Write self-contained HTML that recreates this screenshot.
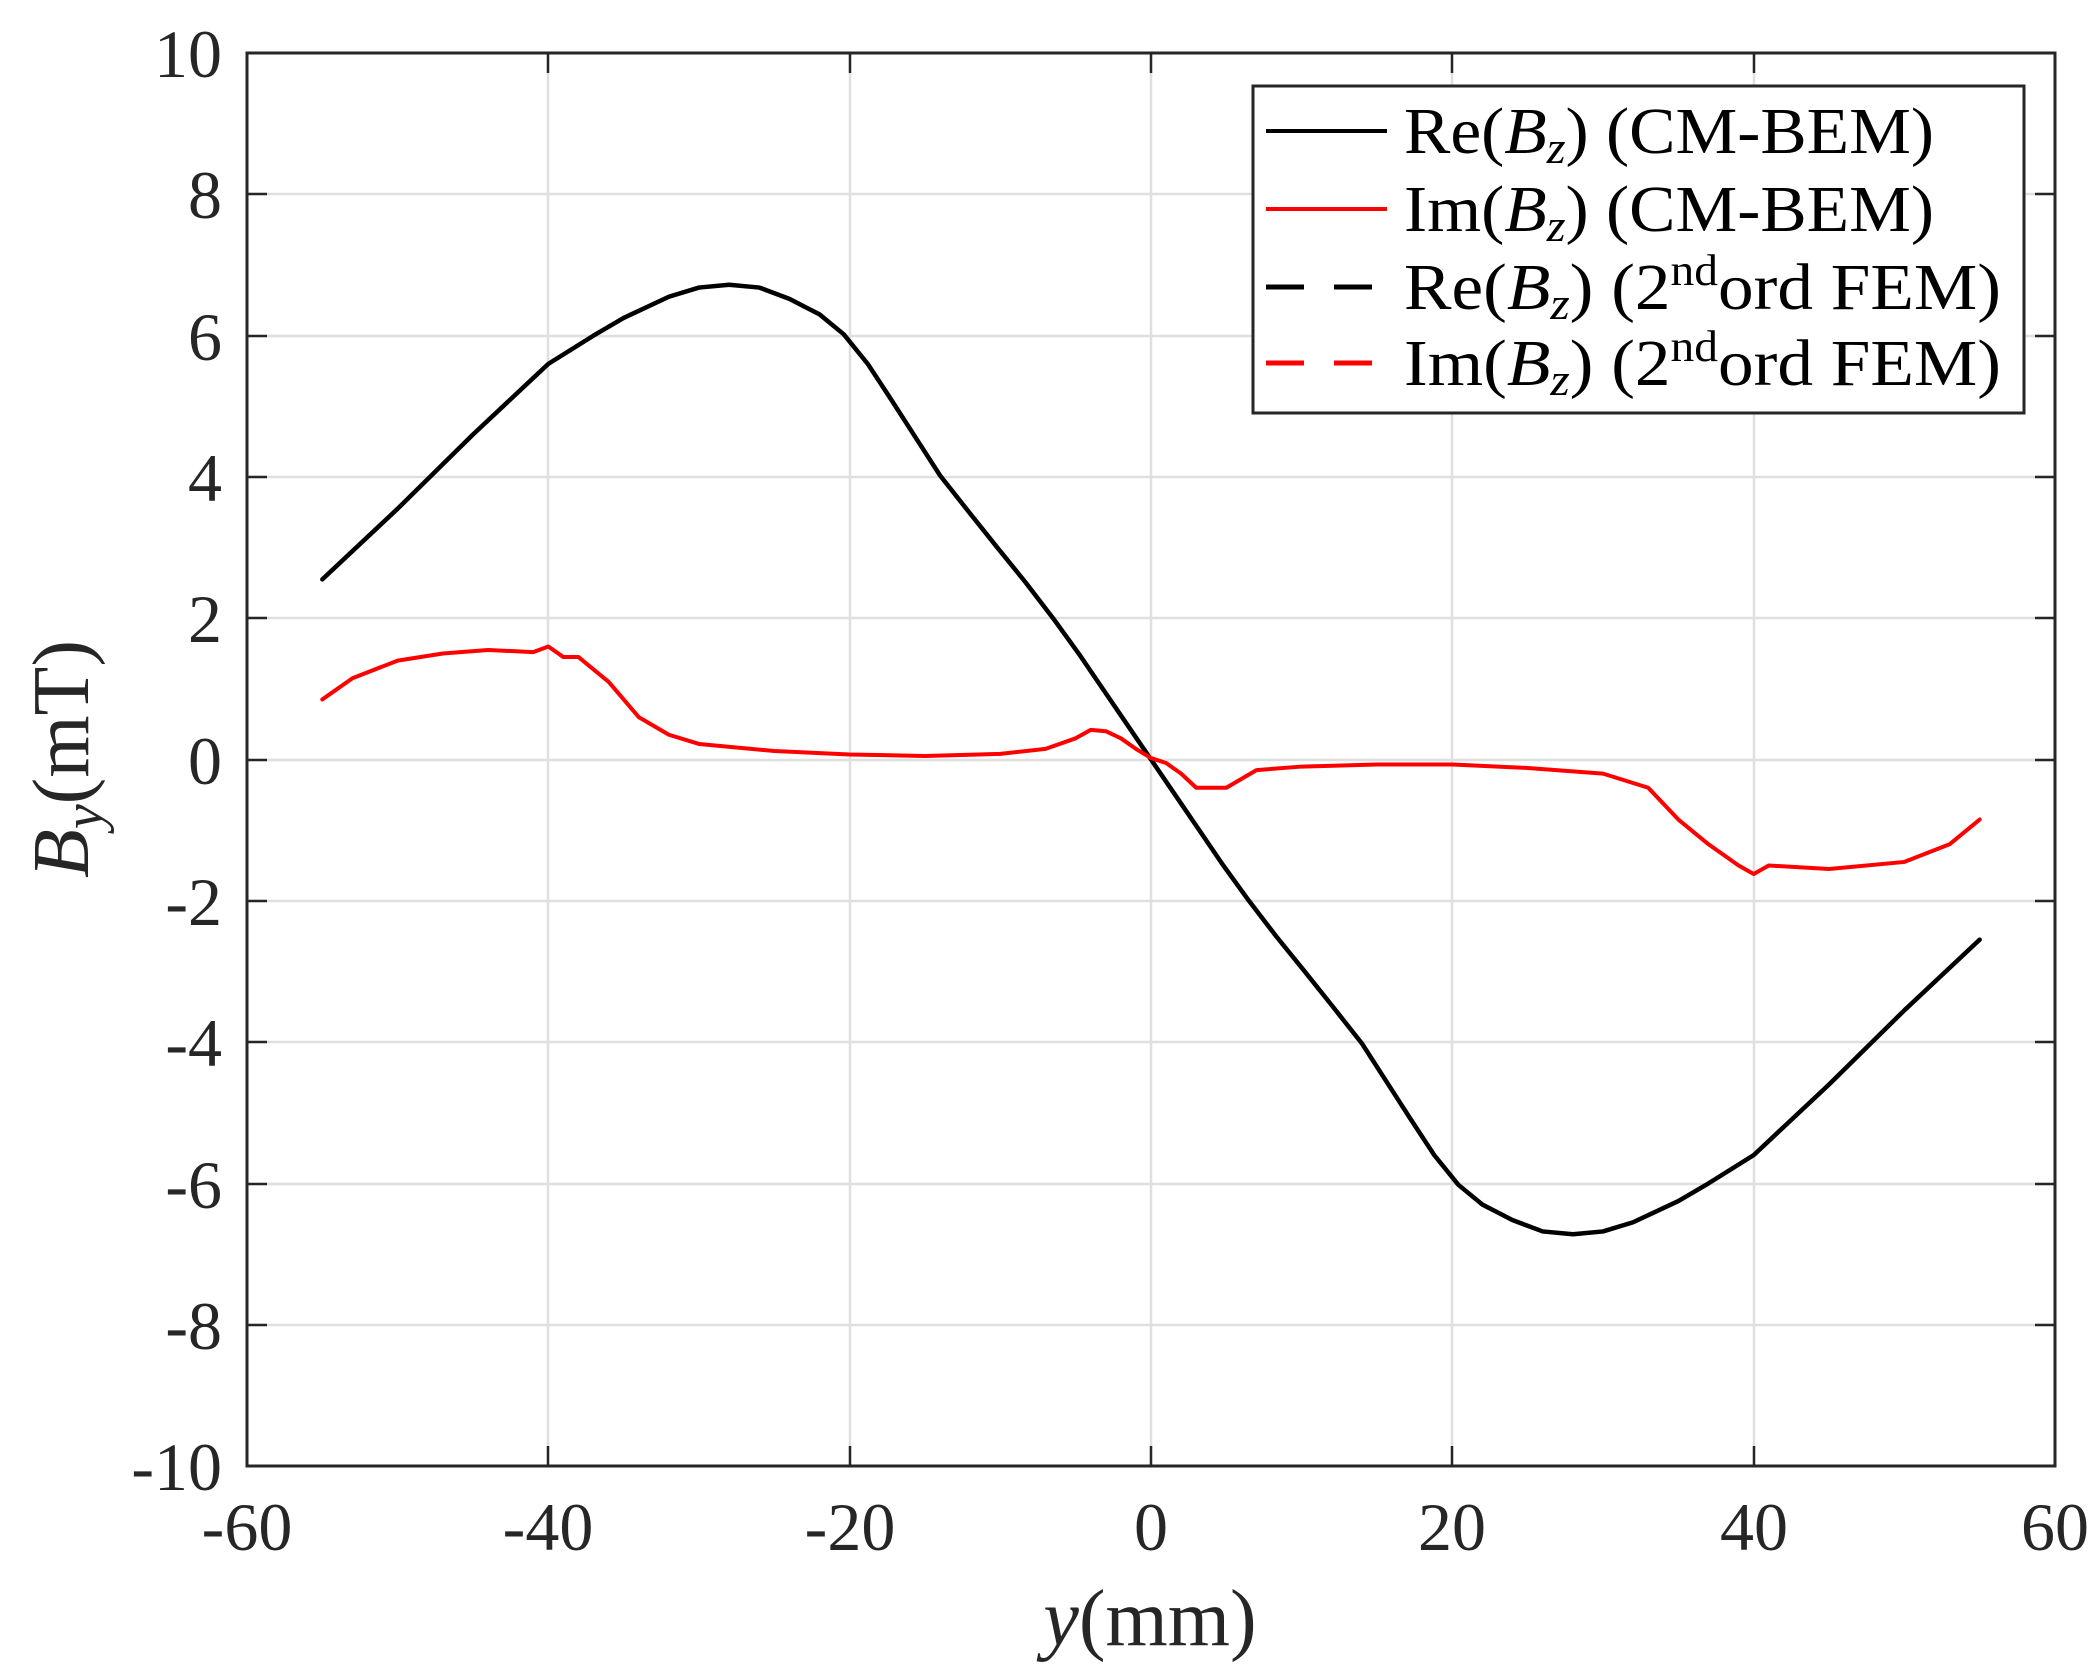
<!DOCTYPE html>
<html><head><meta charset="utf-8"><style>
html,body{margin:0;padding:0;background:#fff;}
svg{display:block;}
text{font-family:"Liberation Serif",serif;fill:#262626;}
</style></head><body>
<svg width="2100" height="1680" viewBox="0 0 2100 1680" xmlns="http://www.w3.org/2000/svg">
<rect width="2100" height="1680" fill="#fff"/>
<g stroke="#dfdfdf" stroke-width="2.5">
<line x1="548" y1="53" x2="548" y2="1466"/><line x1="850" y1="53" x2="850" y2="1466"/>
<line x1="1151" y1="53" x2="1151" y2="1466"/><line x1="1452" y1="53" x2="1452" y2="1466"/>
<line x1="1754" y1="53" x2="1754" y2="1466"/>
<line x1="247" y1="194" x2="2055" y2="194"/><line x1="247" y1="336" x2="2055" y2="336"/>
<line x1="247" y1="477" x2="2055" y2="477"/><line x1="247" y1="618" x2="2055" y2="618"/>
<line x1="247" y1="760" x2="2055" y2="760"/><line x1="247" y1="901" x2="2055" y2="901"/>
<line x1="247" y1="1042" x2="2055" y2="1042"/><line x1="247" y1="1184" x2="2055" y2="1184"/>
<line x1="247" y1="1325" x2="2055" y2="1325"/>
</g>
<g stroke="#262626" stroke-width="2.5">
<path d="M247 194h20M247 336h20M247 477h20M247 618h20M247 760h20M247 901h20M247 1042h20M247 1184h20M247 1325h20"/>
<path d="M2055 194h-20M2055 336h-20M2055 477h-20M2055 618h-20M2055 760h-20M2055 901h-20M2055 1042h-20M2055 1184h-20M2055 1325h-20"/>
<path d="M548 1466v-20M850 1466v-20M1151 1466v-20M1452 1466v-20M1754 1466v-20M548 53v20M850 53v20M1151 53v20M1452 53v20M1754 53v20"/>
</g>
<g transform="translate(1151,759.5) scale(15.067,-70.65)" fill="none" stroke-linejoin="round" stroke-linecap="round">
<polyline vector-effect="non-scaling-stroke" stroke="#000" stroke-width="4.5" points="-55,2.55 -50,3.55 -45,4.6 -40,5.6 -37,6.0 -35,6.25 -32,6.55 -30,6.68 -28,6.72 -26,6.68 -24,6.52 -22,6.3 -20.4,6.02 -18.8,5.6 -17.2,5.08 -15.6,4.55 -14,4.02 -12,3.48 -10.2,3 -8.3,2.5 -6.5,2 -4.8,1.5 -3.2,1 -1.6,0.5 0,0 1.6,-0.5 3.2,-1 4.8,-1.5 6.5,-2 8.3,-2.5 10.2,-3 12,-3.48 14,-4.02 15.6,-4.55 17.2,-5.08 18.8,-5.6 20.4,-6.02 22,-6.3 24,-6.52 26,-6.68 28,-6.72 30,-6.68 32,-6.55 35,-6.25 37,-6.0 40,-5.6 45,-4.6 50,-3.55 55,-2.55"/>
<polyline vector-effect="non-scaling-stroke" stroke="#f00" stroke-width="4" points="-55,0.85 -53,1.15 -50,1.4 -47,1.5 -44,1.55 -41,1.52 -40,1.6 -39,1.45 -38,1.45 -36,1.1 -35,0.85 -34,0.6 -32,0.35 -30,0.22 -25,0.12 -20,0.07 -15,0.05 -10,0.08 -7,0.15 -5,0.3 -4,0.42 -3,0.4 -2,0.3 -1,0.15 0,0.02 1,-0.05 2,-0.2 3,-0.4 5,-0.4 7,-0.15 10,-0.1 15,-0.07 20,-0.07 25,-0.12 30,-0.2 33,-0.4 35,-0.85 37,-1.2 38,-1.35 39,-1.5 40,-1.62 41,-1.5 45,-1.55 50,-1.45 53,-1.2 55,-0.85"/>
</g>
<rect x="247" y="53" width="1808" height="1413" fill="none" stroke="#262626" stroke-width="3"/>
<g font-size="68" text-anchor="end">
<text x="222" y="77">10</text><text x="222" y="218">8</text><text x="222" y="360">6</text>
<text x="222" y="501">4</text><text x="222" y="642">2</text><text x="222" y="784">0</text>
<text x="222" y="925">-2</text><text x="222" y="1066">-4</text><text x="222" y="1208">-6</text>
<text x="222" y="1349">-8</text><text x="222" y="1490">-10</text>
</g>
<g font-size="68" text-anchor="middle">
<text x="247" y="1550">-60</text><text x="548" y="1550">-40</text><text x="850" y="1550">-20</text>
<text x="1151" y="1550">0</text><text x="1452" y="1550">20</text><text x="1754" y="1550">40</text><text x="2055" y="1550">60</text>
</g>
<text x="1150" y="1645" font-size="80" text-anchor="middle"><tspan font-style="italic">y</tspan>(mm)</text>
<text transform="translate(88,759) rotate(-90)" font-size="80" text-anchor="middle"><tspan font-style="italic">B</tspan><tspan font-style="italic" font-size="56" dy="14">y</tspan><tspan dy="-14">(mT)</tspan></text>
<rect x="1253" y="86" width="771" height="327" fill="#fff" stroke="#262626" stroke-width="3"/>
<g stroke-width="4">
<line x1="1266" y1="131" x2="1387" y2="131" stroke="#000"/>
<line x1="1266" y1="209" x2="1387" y2="209" stroke="#f00"/>
<line x1="1266" y1="287" x2="1387" y2="287" stroke="#000" stroke-width="5" stroke-dasharray="38,30"/>
<line x1="1266" y1="363" x2="1387" y2="363" stroke="#f00" stroke-width="5" stroke-dasharray="38,30"/>
</g>
<g font-size="66">
<text x="1404" y="153" style="fill:#000" textLength="530" lengthAdjust="spacingAndGlyphs">Re(<tspan font-style="italic">B</tspan><tspan font-style="italic" font-size="46" dy="10">z</tspan><tspan dy="-10">) (CM-BEM)</tspan></text>
<text x="1404" y="231" style="fill:#000" textLength="530" lengthAdjust="spacingAndGlyphs">Im(<tspan font-style="italic">B</tspan><tspan font-style="italic" font-size="46" dy="10">z</tspan><tspan dy="-10">) (CM-BEM)</tspan></text>
<text x="1404" y="309" style="fill:#000" textLength="597" lengthAdjust="spacingAndGlyphs">Re(<tspan font-style="italic">B</tspan><tspan font-style="italic" font-size="46" dy="10">z</tspan><tspan dy="-10">) (2</tspan><tspan font-size="44" dy="-24">nd</tspan><tspan dy="24">ord FEM)</tspan></text>
<text x="1404" y="385" style="fill:#000" textLength="597" lengthAdjust="spacingAndGlyphs">Im(<tspan font-style="italic">B</tspan><tspan font-style="italic" font-size="46" dy="10">z</tspan><tspan dy="-10">) (2</tspan><tspan font-size="44" dy="-24">nd</tspan><tspan dy="24">ord FEM)</tspan></text>
</g>
</svg>
</body></html>
